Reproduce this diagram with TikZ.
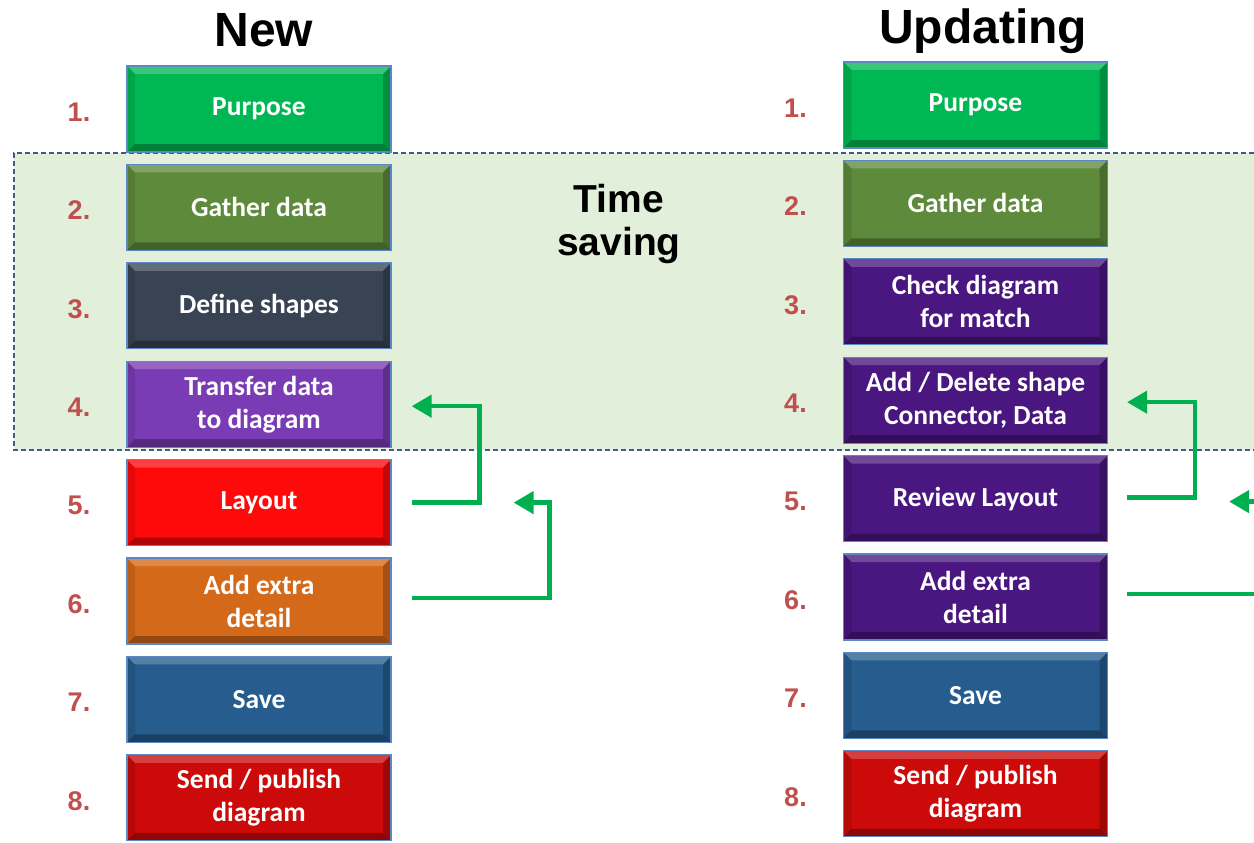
\documentclass[tikz,border=0pt]{standalone}
\usepackage{fontspec}
\setmainfont{Carlito}
\newfontfamily\arialfont{Liberation Sans}
\usetikzlibrary{calc,arrows.meta}
\definecolor{bandfill}{HTML}{E2EFDA}
\definecolor{bandline}{HTML}{3F5A8A}
\definecolor{boxline}{HTML}{5B87C5}
\definecolor{numred}{HTML}{C0504D}
\definecolor{arrowgreen}{HTML}{00B050}
\definecolor{cPurpose}{HTML}{00B853}
\definecolor{cGather}{HTML}{5E8B3B}
\definecolor{cDefine}{HTML}{384454}
\definecolor{cTransfer}{HTML}{7A3CB4}
\definecolor{cLayout}{HTML}{FF0A0A}
\definecolor{cExtra}{HTML}{D4691A}
\definecolor{cSave}{HTML}{265D8E}
\definecolor{cSend}{HTML}{CC0A0A}
\definecolor{cPurple}{HTML}{4A1680}
\tikzset{
  bevel/.style={path picture={
    \fill[white,opacity=0.22] (path picture bounding box.north west) -- (path picture bounding box.north east)
      -- ([xshift=-8pt,yshift=-8pt]path picture bounding box.north east) -- ([xshift=8pt,yshift=-8pt]path picture bounding box.north west) -- cycle;
    \fill[black,opacity=0.3] (path picture bounding box.south west) -- (path picture bounding box.south east)
      -- ([xshift=-8pt,yshift=8pt]path picture bounding box.south east) -- ([xshift=8pt,yshift=8pt]path picture bounding box.south west) -- cycle;
    \fill[black,opacity=0.1] (path picture bounding box.north west) -- ([xshift=8pt,yshift=-8pt]path picture bounding box.north west)
      -- ([xshift=8pt,yshift=8pt]path picture bounding box.south west) -- (path picture bounding box.south west) -- cycle;
    \fill[black,opacity=0.22] (path picture bounding box.north east) -- ([xshift=-8pt,yshift=-8pt]path picture bounding box.north east)
      -- ([xshift=-8pt,yshift=8pt]path picture bounding box.south east) -- (path picture bounding box.south east) -- cycle;
  }},
  stepbox/.style={draw=boxline, line width=1.2pt, minimum width=264pt, minimum height=86pt,
    inner sep=0pt, text=white, align=center, fill=#1, bevel,
    font=\fontsize{27.5}{33}\selectfont\bfseries},
  numlabel/.style={text=numred, font=\arialfont\fontsize{27}{30}\selectfont\bfseries},
  title/.style={font=\arialfont\fontsize{48}{52}\selectfont\bfseries, anchor=base},
  flow/.style={draw=arrowgreen, line width=4.5pt, line join=miter,
    -{Triangle[length=20pt,width=22pt]}},
}
\begin{document}
\begin{tikzpicture}[x=1pt,y=-1pt]
\useasboundingbox (0,0) rectangle (1254,843);
\begin{scope}
\clip (0,0) rectangle (1254,843);
% band
\path[fill=bandfill] (14,153) rectangle (1270,450);
\draw[bandline, dashed, line width=1.2pt, dash pattern=on 5pt off 3pt] (1270,153) -- (14,153) -- (14,450) -- (1270,450);

% titles
\node[title] (tnew) at (264,47) {New};
\node[title] (tupd) at (983,44) {Updating};
\node[font=\arialfont\fontsize{39}{43}\selectfont\bfseries, align=center] (tsave) at (619,224) {Time\\saving};

% left column
\node[stepbox=cPurpose]  (L1) at (259,109.0) {Purpose};
\node[stepbox=cGather]   (L2) at (259,207.4) {Gather data};
\node[stepbox=cDefine]   (L3) at (259,305.8) {Define shapes};
\node[stepbox=cTransfer] (L4) at (259,404.2) {Transfer data\\to diagram};
\node[stepbox=cLayout]   (L5) at (259,502.6) {Layout};
\node[stepbox=cExtra]    (L6) at (259,601.0) {Add extra\\detail};
\node[stepbox=cSave]     (L7) at (259,699.4) {Save};
\node[stepbox=cSend]     (L8) at (259,797.8) {Send / publish\\diagram};

% right column
\node[stepbox=cPurpose]  (R1) at (975.5,105.0) {Purpose};
\node[stepbox=cGather]   (R2) at (975.5,203.4) {Gather data};
\node[stepbox=cPurple]   (R3) at (975.5,301.8) {Check diagram\\for match};
\node[stepbox=cPurple]   (R4) at (975.5,400.2) {Add / Delete shape\\Connector, Data};
\node[stepbox=cPurple]   (R5) at (975.5,498.6) {Review Layout};
\node[stepbox=cPurple]   (R6) at (975.5,597.0) {Add extra\\detail};
\node[stepbox=cSave]     (R7) at (975.5,695.4) {Save};
\node[stepbox=cSend]     (R8) at (975.5,793.8) {Send / publish\\diagram};

% numbers
\foreach \i in {1,...,8}{
  \node[numlabel] (nl\i) at ($(L\i.center)+(-180,3)$) {\i.};
  \node[numlabel] (nr\i) at ($(R\i.center)+(-180,3)$) {\i.};
}

% left arrows
\draw[flow] ($(L5.east)+(20,0)$) -- ($(L5.east)+(88,0)$) |- ($(L4.east)+(20,2)$);
\draw[flow] ($(L6.east)+(20,-3)$) -- ($(L6.east)+(158,-3)$) |- ($(L5.east)+(122,0)$);
% right arrows
\draw[flow] ($(R5.east)+(19,-1)$) -- ($(R5.east)+(87,-1)$) |- ($(R4.east)+(19,2)$);
\coordinate (offpage) at ($(R6.east)+(220,-3)$);
\draw[flow] ($(R6.east)+(19,-3)$) -- (offpage) |- ($(R5.east)+(121,3)$);
\end{scope}
\end{tikzpicture}
\end{document}
